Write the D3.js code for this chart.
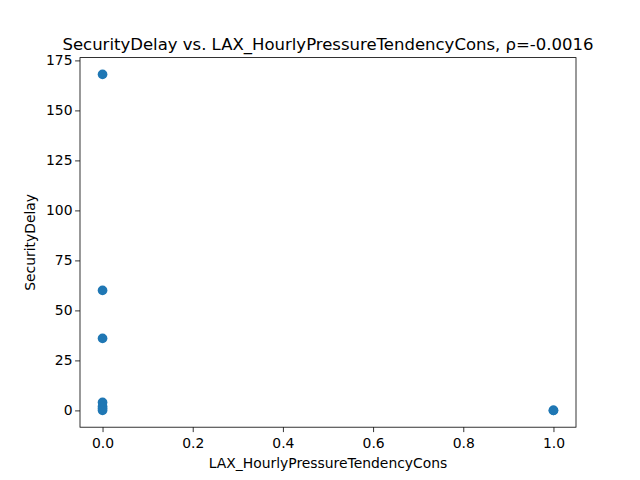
<!DOCTYPE html>
<html>
<head>
<meta charset="utf-8">
<script src="https://cdn.jsdelivr.net/npm/d3@7"></script>
<style>
  body { margin: 0; background: #fff; }
  text { font-family: "DejaVu Sans", sans-serif; fill: #000; }
</style>
</head>
<body>
<svg id="chart" width="640" height="480"></svg>
<script>
// Data
const xValues = [0, 0, 0, 0, 0, 0, 0, 1, 1];
const yValues = [168, 60, 36, 4, 2, 1, 0, 0, 0];
const xTicks = [0.0, 0.2, 0.4, 0.6, 0.8, 1.0];
const yTicks = [0, 25, 50, 75, 100, 125, 150, 175];

const margin = { left: 80, right: 64, top: 57.6, bottom: 52.8 };
const width = 640, height = 480;

const svg = d3.select('#chart');

const x = d3.scaleLinear()
  .domain([-0.05, 1.05])
  .range([margin.left, width - margin.right]);

const yMax = d3.max(yValues), yMin = d3.min(yValues);
const pad = (yMax - yMin) * 0.05;
const y = d3.scaleLinear()
  .domain([yMin - pad, yMax + pad])
  .range([height - margin.bottom, margin.top]);

// Points
svg.append('g')
  .selectAll('circle')
  .data(xValues.map((d, i) => [d, yValues[i]]))
  .enter()
  .append('circle')
  .attr('cx', d => x(d[0]))
  .attr('cy', d => y(d[1]))
  .attr('r', 4.85)
  .attr('fill', '#1f77b4');

// Axes
const xAxis = svg.append('g')
  .attr('transform', `translate(0,${height - margin.bottom})`)
  .call(d3.axisBottom(x).tickValues(xTicks).tickFormat(d3.format('.1f')).tickSize(4.9).tickSizeOuter(0));

const yAxis = svg.append('g')
  .attr('transform', `translate(${margin.left},0)`)
  .call(d3.axisLeft(y).tickValues(yTicks).tickFormat(d3.format('d')).tickSize(4.9).tickSizeOuter(0));

[xAxis, yAxis].forEach(a => {
  a.select('.domain').remove();
  a.selectAll('.tick line').attr('stroke', '#000').attr('stroke-width', 0.8);
  a.selectAll('.tick text').attr('font-size', '13.9px').attr('font-family', '"DejaVu Sans", sans-serif');
});
xAxis.selectAll('.tick text').attr('dy', '0.95em');
yAxis.selectAll('.tick text').attr('x', -7.5);

// Frame
svg.append('rect')
  .attr('x', margin.left)
  .attr('y', margin.top)
  .attr('width', width - margin.left - margin.right)
  .attr('height', height - margin.top - margin.bottom)
  .attr('fill', 'none')
  .attr('stroke', '#000')
  .attr('stroke-width', 0.8);

// Labels
svg.append('text')
  .attr('x', (margin.left + width - margin.right) / 2)
  .attr('y', margin.top - 8)
  .attr('text-anchor', 'middle')
  .attr('font-size', '16.5px')
  .text('SecurityDelay vs. LAX_HourlyPressureTendencyCons, ρ=-0.0016');

svg.append('text')
  .attr('x', (margin.left + width - margin.right) / 2)
  .attr('y', 468)
  .attr('text-anchor', 'middle')
  .attr('font-size', '13.9px')
  .text('LAX_HourlyPressureTendencyCons');

svg.append('text')
  .attr('transform', `translate(35,${(margin.top + height - margin.bottom) / 2}) rotate(-90)`)
  .attr('text-anchor', 'middle')
  .attr('font-size', '13.9px')
  .text('SecurityDelay');
</script>
</body>
</html>
